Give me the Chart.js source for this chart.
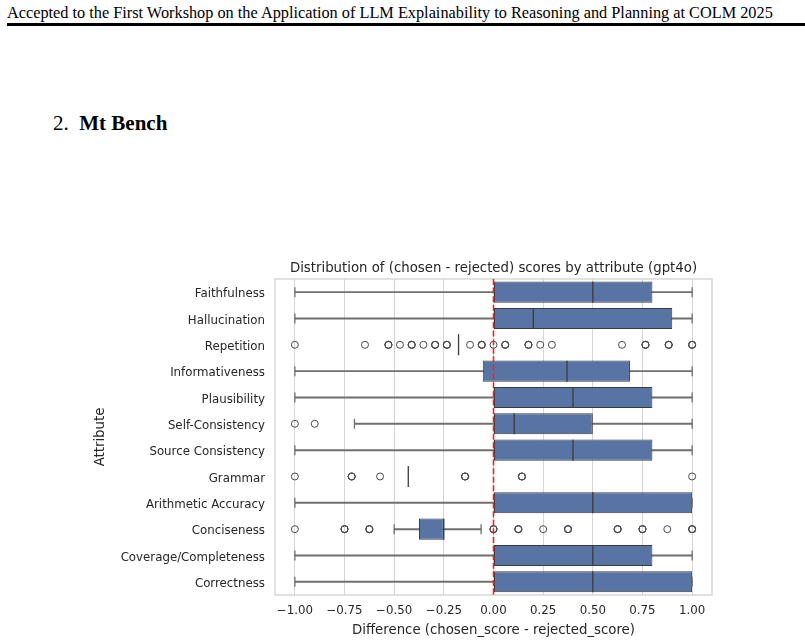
<!DOCTYPE html>
<html>
<head>
<meta charset="utf-8">
<script src="https://cdn.jsdelivr.net/npm/chart.js@4.4.1/dist/chart.umd.min.js"></script>
<style>
body{margin:0;background:#fff;width:805px;height:644px;position:relative;overflow:hidden}
#hdr{position:absolute;left:7px;top:3px;font-family:"Liberation Serif",serif;font-size:16.3px;white-space:nowrap;color:#000}
#rule{position:absolute;left:7px;right:0;top:23px;height:3px;background:#000}
#sec{position:absolute;left:53px;top:111px;font-family:"Liberation Serif",serif;font-size:21px;color:#000}
#wrap{position:absolute;left:0;top:250px;width:805px;height:394px}
</style>
</head>
<body>
<div id="hdr">Accepted to the First Workshop on the Application of LLM Explainability to Reasoning and Planning at COLM 2025</div>
<div id="rule"></div>
<div id="sec">2.&nbsp; <b>Mt Bench</b></div>
<div id="wrap"><canvas id="boxChart"></canvas></div>

<script>

/* data */

const categories = ["Faithfulness","Hallucination","Repetition","Informativeness","Plausibility","Self-Consistency","Source Consistency","Grammar","Arithmetic Accuracy","Conciseness","Coverage/Completeness","Correctness"]

const q1       = [0,   0,   -0.176, -0.054, 0,   0,     0,   -0.429, 0,   -0.375, 0,   0]
const median   = [0.5, 0.2, -0.176,  0.37,  0.4, 0.104, 0.4, -0.429, 0.5, -0.25,  0.5, 0.5]
const q3       = [0.8, 0.9, -0.176,  0.687, 0.8, 0.5,   0.8, -0.429, 1,   -0.25,  0.8, 1]
const whiskerLo = [-1, -1, null, -1, -1, -0.7, -1, null, -1, -0.5,    -1, -1]
const whiskerHi = [1,   1, null,  1,  1,  1,    1, null,  1, -0.0625,  1,  1]

// outliers (values repeated where several rows sit on the same score)
const repetitionFliers = [-1, -0.647, -0.529, -0.529, -0.529, -0.471, -0.412, -0.412, -0.412, -0.353, -0.294, -0.294, -0.294, -0.235, -0.235, -0.235, -0.118, -0.059, -0.059, -0.059, 0, 0.059, 0.059, 0.059, 0.176, 0.176, 0.176, 0.235, 0.294, 0.647, 0.765, 0.765, 0.765, 0.882, 0.882, 0.882, 1, 1, 1]
const selfConsistencyFliers = [-1, -0.9]
const grammarFliers = [-1, -0.714, -0.714, -0.714, -0.571, -0.143, -0.143, -0.143, 0.143, 0.143, 0.143, 1]
const concisenessFliers = [-1, -0.75, -0.75, -0.75, -0.625, -0.625, -0.625, 0, 0, 0, 0.125, 0.125, 0.125, 0.25, 0.375, 0.375, 0.375, 0.625, 0.625, 0.625, 0.75, 0.75, 0.75, 0.875, 1, 1, 1]

const xTicks = [-1, -0.75, -0.5, -0.25, 0, 0.25, 0.5, 0.75, 1]


const BOX = "#5874a5"
const EDGE = "#3b3b3b"
const WHISK = "#6f6f6f"
const TXT = "#262626"
const FONT = "'DejaVu Sans', sans-serif"


/* build the datasets */

const boxData = categories.map((c,i)=> q1[i]===q3[i] ? null : [q1[i], q3[i]])
const whiskData = categories.map((c,i)=> whiskerLo[i]===null ? null : [whiskerLo[i], whiskerHi[i]])

const caps = []
categories.forEach((c,i)=>{
  if(whiskerLo[i]===null) return
  caps.push({x:whiskerLo[i], y:c})
  caps.push({x:whiskerHi[i], y:c})
})

const medians = categories.map((c,i)=>({x:median[i], y:c}))

const fliers = []
;[["Repetition",repetitionFliers],["Self-Consistency",selfConsistencyFliers],["Grammar",grammarFliers],["Conciseness",concisenessFliers]]
.forEach(([c,arr])=>arr.forEach(v=>fliers.push({x:v, y:c})))


/* frame round the plot + red zero line */

const framePlugin = {
  id:"frame",
  beforeDatasetsDraw(chart){
    const {ctx, chartArea:a} = chart
    ctx.save()
    ctx.strokeStyle = "#cfcfcf"
    ctx.lineWidth = 1.25
    ctx.strokeRect(a.left, a.top, a.right-a.left, a.bottom-a.top)
    ctx.restore()
  },
  afterDatasetsDraw(chart){
    const {ctx, chartArea:a, scales} = chart
    const x = scales.x.getPixelForValue(0)
    ctx.save()
    ctx.strokeStyle = "#f02424"
    ctx.lineWidth = 1.6
    ctx.setLineDash([6,2.6])
    ctx.beginPath()
    ctx.moveTo(x, a.top)
    ctx.lineTo(x, a.bottom)
    ctx.stroke()
    ctx.restore()
  }
}


new Chart(document.getElementById("boxChart"),{
  type:"bar",
  data:{
    labels:categories,
    datasets:[
      {
        label:"whiskers",
        data:whiskData,
        backgroundColor:WHISK,
        barThickness:1.3,
        grouped:false,
        order:5
      },
      {
        label:"boxes",
        data:boxData,
        backgroundColor:BOX,
        borderColor:EDGE,
        borderWidth:1,
        borderSkipped:false,
        barPercentage:0.8,
        categoryPercentage:1,
        grouped:false,
        order:4
      },
      {
        type:"scatter",
        label:"caps",
        data:caps,
        pointStyle:"line",
        rotation:90,
        radius:5,
        borderColor:WHISK,
        borderWidth:1.3,
        order:3
      },
      {
        type:"scatter",
        label:"median",
        data:medians,
        pointStyle:"line",
        rotation:90,
        radius:10.5,
        borderColor:EDGE,
        borderWidth:1.3,
        order:2
      },
      {
        type:"scatter",
        label:"outliers",
        data:fliers,
        pointStyle:"circle",
        radius:3.5,
        borderColor:"#4a4a4a",
        backgroundColor:"rgba(0,0,0,0)",
        borderWidth:1,
        order:1
      }
    ]
  },
  options:{
    indexAxis:"y",
    responsive:true,
    maintainAspectRatio:false,
    animation:false,
    events:[],
    layout:{padding:{left:80, right:93, top:0, bottom:0}},
    plugins:{
      legend:{display:false},
      tooltip:{enabled:false},
      title:{
        display:true,
        fullSize:false,
        text:"Distribution of (chosen - rejected) scores by attribute (gpt4o)",
        color:TXT,
        font:{family:FONT, size:13.3, weight:"normal"},
        padding:{top:11, bottom:2}
      }
    },
    scales:{
      x:{
        type:"linear",
        min:-1.1,
        max:1.1,
        afterBuildTicks:s=>{ s.ticks = xTicks.map(v=>({value:v})) },
        afterFit:s=>{ s.height = 49 },
        ticks:{
          padding:9,
          color:TXT,
          font:{family:FONT, size:11.8},
          callback:v=>(v<0?"\u2212":"")+Math.abs(v).toFixed(2)
        },
        grid:{color:"#d6d6d6", lineWidth:1, drawTicks:false},
        border:{display:false},
        title:{
          display:true,
          text:"Difference (chosen_score - rejected_score)",
          color:TXT,
          font:{family:FONT, size:13.3},
          padding:{top:0, bottom:5}
        }
      },
      y:{
        type:"category",
        offset:true,
        afterFit:s=>{ s.width = 275 - 80 },
        ticks:{
          padding:10,
          labelOffset:2,
          color:TXT,
          font:{family:FONT, size:11.8}
        },
        grid:{display:false, drawTicks:false},
        border:{display:false},
        title:{
          display:true,
          text:"Attribute",
          color:TXT,
          font:{family:FONT, size:13.3},
          padding:{top:13, bottom:0}
        }
      }
    }
  },
  plugins:[framePlugin]
})

</script>
</body>
</html>
